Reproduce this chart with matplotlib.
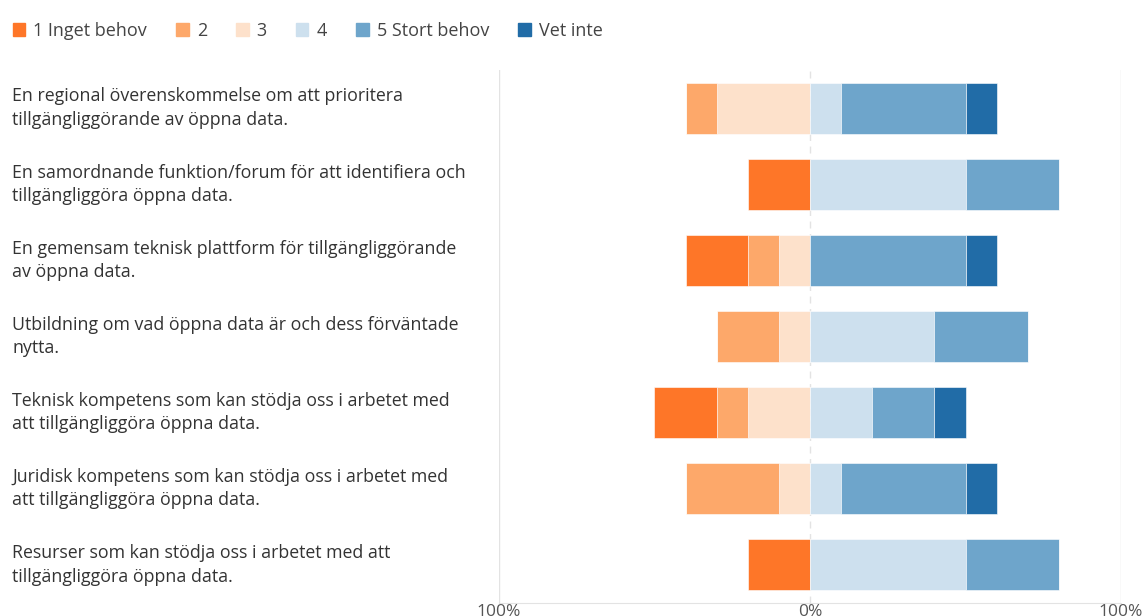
import numpy as np
import matplotlib.pyplot as plt

plt.rcParams['font.family'] = ['Open Sans', 'DejaVu Sans']

questions = [
    'En regional överenskommelse om att prioritera\ntillgängliggörande av öppna data.',
    'En samordnande funktion/forum för att identifiera och\ntillgängliggöra öppna data.',
    'En gemensam teknisk plattform för tillgängliggörande\nav öppna data.',
    'Utbildning om vad öppna data är och dess förväntade\nnytta.',
    'Teknisk kompetens som kan stödja oss i arbetet med\natt tillgängliggöra öppna data.',
    'Juridisk kompetens som kan stödja oss i arbetet med\natt tillgängliggöra öppna data.',
    'Resurser som kan stödja oss i arbetet med att\ntillgängliggöra öppna data.',
]
categories = ['1 Inget behov', '2', '3', '4', '5 Stort behov', 'Vet inte']
colors = ['#fe7628', '#fda86a', '#fde1cb', '#cde0ee', '#6ea5cb', '#216ca7']

# percent per category, per question
s1 = [0, 20, 20, 0, 20, 0, 20]
s2 = [10, 0, 10, 20, 10, 30, 0]
s3 = [30, 0, 10, 10, 20, 10, 0]
s4 = [10, 50, 0, 40, 20, 10, 50]
s5 = [40, 30, 50, 30, 20, 40, 30]
vet = [10, 0, 10, 0, 10, 10, 0]

neg = [np.array(s3), np.array(s2), np.array(s1)]   # stacked leftwards from 0
pos = [np.array(s4), np.array(s5), np.array(vet)]  # stacked rightwards from 0

fig = plt.figure(figsize=(11.46, 6.16), dpi=100)
ax = fig.add_axes([0.4354, 0.0211, 0.5428, 0.8653])

y = np.arange(len(questions))
h = 0.67

left = np.zeros(len(y))
for vals, c in zip(neg, [colors[2], colors[1], colors[0]]):
    ax.barh(y, -vals, left=left, height=h, color=c, edgecolor='white', linewidth=0.4)
    left = left - vals
left = np.zeros(len(y))
for vals, c in zip(pos, [colors[3], colors[4], colors[5]]):
    ax.barh(y, vals, left=left, height=h, color=c, edgecolor='white', linewidth=0.4)
    left = left + vals

ax.set_xlim(-100, 100)
ax.set_ylim(len(y) - 0.5, -0.5)
ax.axvline(-100, color='#e3e3e3', lw=1, zorder=0)
ax.axvline(100, color='#e3e3e3', lw=1, zorder=0)
ax.axvline(0, color='#e3e3e3', lw=1, ls=(0, (5, 4)), zorder=0)

for s in ['top', 'right', 'left']:
    ax.spines[s].set_visible(False)
ax.spines['bottom'].set_color('#e3e3e3')
ax.set_yticks([])
ax.set_xticks([-100, 0, 100])
ax.set_xticklabels(['100%', '0%', '100%'])
ax.tick_params(axis='x', length=0, pad=1, labelsize=12.5, labelcolor='#555555')

trans = plt.matplotlib.transforms.blended_transform_factory(fig.transFigure, ax.transData)
for yi, q in zip(y, questions):
    ax.text(12 / 1146, yi, q, transform=trans, ha='left', va='center',
            fontsize=12.8, color='#333333', linespacing=1.38)

# legend row
handles = [plt.Rectangle((0, 0), 1, 1, color=c) for c in colors]
fig.legend(handles, categories, loc='upper left', bbox_to_anchor=(0.0, 0.985), ncol=6,
           frameon=False, fontsize=13, handlelength=0.7, handleheight=0.7,
           handletextpad=0.45, columnspacing=1.6, labelcolor='#444444',
           borderaxespad=0.3)

fig.savefig('out.png', dpi=100)
